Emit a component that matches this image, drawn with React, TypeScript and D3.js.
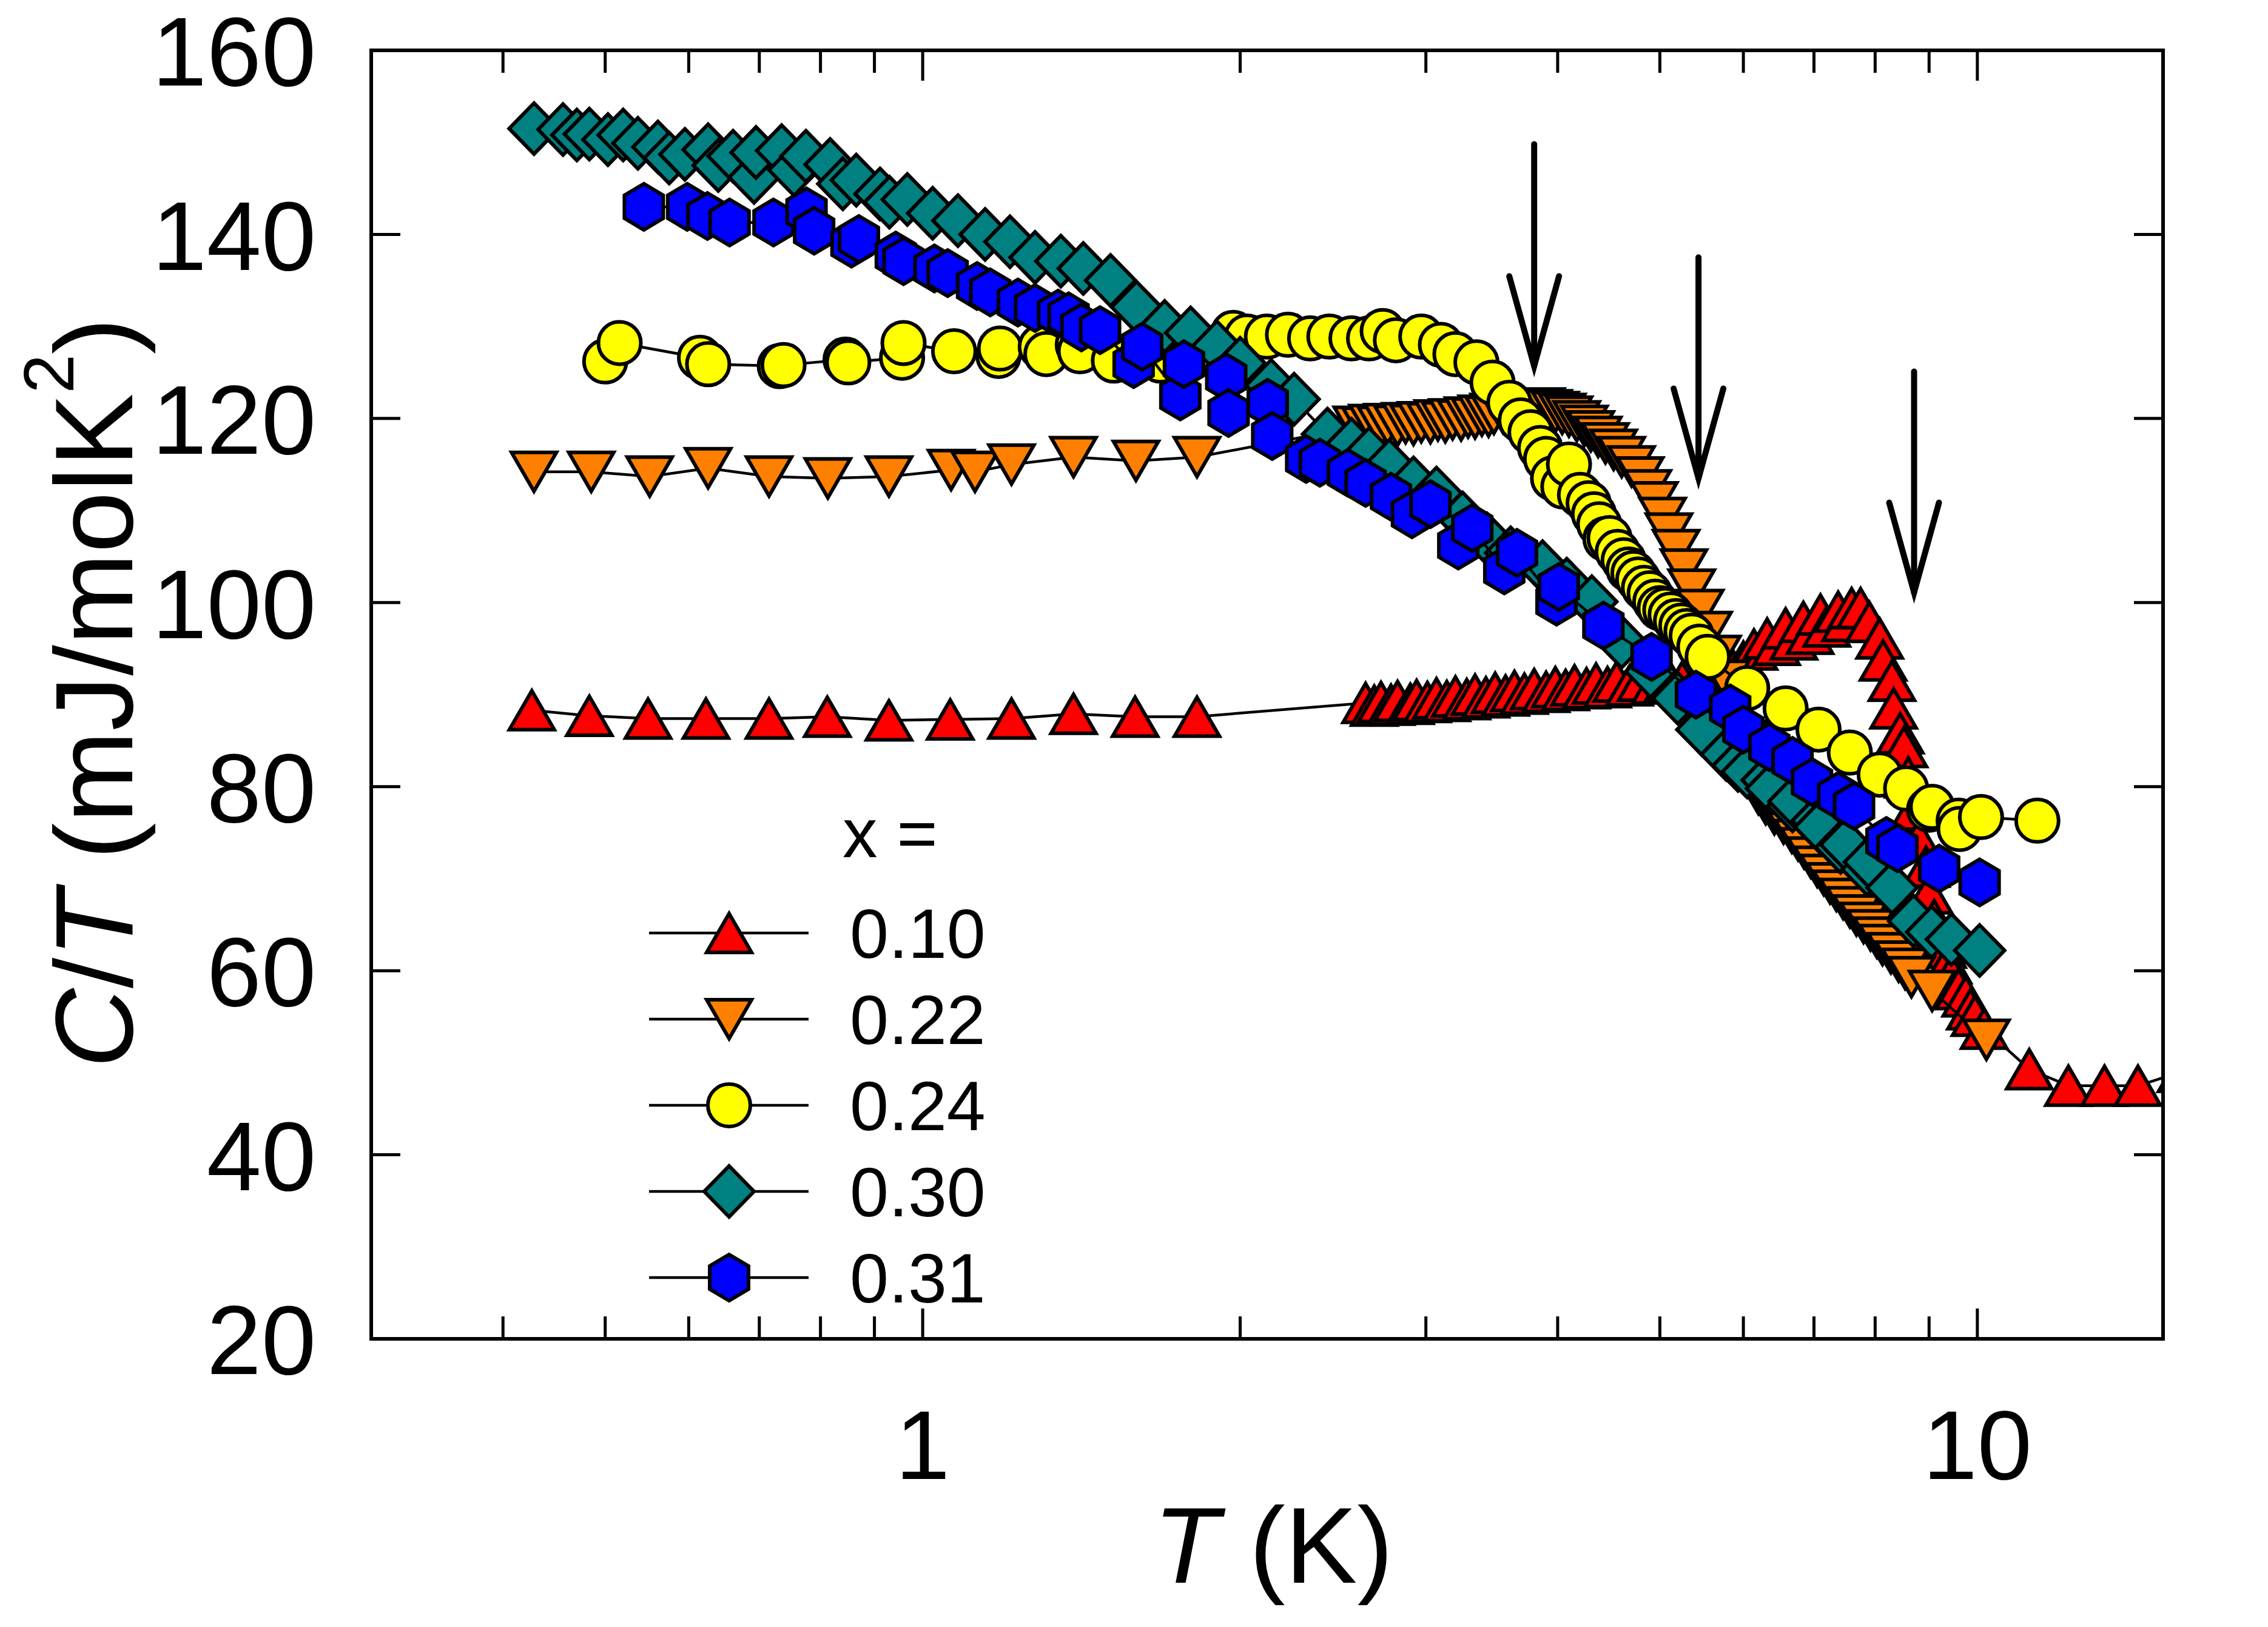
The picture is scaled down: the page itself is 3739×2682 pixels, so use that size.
import { useEffect, useRef } from "react";
import * as d3 from "d3";

type Pt = [number, number]; // [T in K, C/T in mJ/molK^2]

const WIDTH = 3739;
const HEIGHT = 2682;
const PLOT = { left: 612, right: 3566, top: 83, bottom: 2207 };
const FONT = "'Liberation Sans', Arial, Helvetica, sans-serif";

const X_DOMAIN: [number, number] = [0.3, 15];
const Y_DOMAIN: [number, number] = [20, 160];
const Y_TICKS = [20, 40, 60, 80, 100, 120, 140, 160];
const X_MAJOR = [1, 10];
const X_MINOR = [0.4, 0.5, 0.6, 0.7, 0.8, 0.9, 2, 3, 4, 5, 6, 7, 8, 9];

// vertical arrows marking the transitions: [T, top value, tip value]
const ARROWS: [number, number, number][] = [
  [3.8, 149.8, 125.7],
  [5.44, 137.5, 113.5],
  [8.71, 125.1, 101.1],
];

const X_010: Pt[] = [
  [0.426, 88.3], [0.483, 87.7], [0.549, 87.4], [0.623, 87.4], [0.715, 87.4], [0.812, 87.6],
  [0.929, 87.2], [1.062, 87.3], [1.214, 87.4], [1.39, 87.9], [1.59, 87.6], [1.82, 87.6],
  [2.63, 89.1], [2.68, 88.8], [2.72, 89.2], [2.78, 88.9], [2.82, 89.3], [2.9, 89.0], [2.94, 89.4],
  [3.01, 89.2], [3.07, 89.6], [3.14, 89.3], [3.2, 89.8], [3.28, 89.5], [3.34, 90.0], [3.42, 89.7],
  [3.49, 90.2], [3.57, 89.9], [3.64, 90.4], [3.72, 90.1], [3.8, 90.6], [3.9, 90.3], [3.98, 90.8],
  [4.07, 90.5], [4.15, 91.0], [4.26, 90.7], [4.35, 91.2], [4.46, 90.8], [4.55, 91.4], [4.68, 91.0],
  [4.8, 91.5], [4.95, 91.2], [5.1, 91.6], [5.25, 91.4], [5.45, 91.9], [5.65, 92.0], [5.87, 92.6],
  [6.0, 93.6], [6.14, 94.9], [6.32, 96.1], [6.45, 95.4], [6.58, 97.2], [6.7, 96.0], [6.84, 97.9],
  [6.94, 96.6], [7.1, 98.7], [7.2, 97.4], [7.38, 99.0], [7.5, 98.0], [7.6, 99.4], [7.75, 99.4],
  [7.9, 97.9], [8.08, 96.1], [8.14, 93.7], [8.3, 91.5], [8.33, 88.5], [8.45, 85.8], [8.52, 84.3],
  [8.6, 81.0], [8.7, 77.5], [8.8, 74.2], [8.94, 71.3], [9.0, 68.4], [9.1, 65.5], [9.2, 63.8],
  [9.27, 62.5], [9.38, 60.8], [9.45, 59.5], [9.6, 58.0], [9.75, 57.2], [9.85, 55.8], [9.95, 55.1],
  [10.15, 53.7], [11.2, 49.3], [12.2, 47.5], [13.2, 47.5], [14.2, 47.5], [15.6, 49.0],
];

const X_022: Pt[] = [
  [0.428, 114.2], [0.485, 114.2], [0.551, 113.7], [0.626, 114.6], [0.715, 113.7], [0.813, 113.5],
  [0.929, 113.7], [1.064, 114.4], [1.121, 114.2], [1.214, 115.0], [1.39, 115.8], [1.593, 115.4],
  [1.82, 115.8], [2.58, 119.1], [2.63, 119.0], [2.67, 119.3], [2.72, 119.1], [2.76, 119.4],
  [2.82, 119.2], [2.87, 119.5], [2.92, 119.3], [2.97, 119.6], [3.03, 119.5], [3.08, 119.8],
  [3.13, 119.6], [3.18, 119.9], [3.24, 119.8], [3.29, 120.1], [3.34, 120.0], [3.39, 120.3],
  [3.44, 120.2], [3.48, 120.5], [3.55, 120.6], [3.62, 120.8], [3.68, 120.9], [3.74, 121.0],
  [3.8, 120.8], [3.86, 121.1], [3.92, 120.9], [3.98, 120.7], [4.04, 120.5], [4.1, 120.2],
  [4.17, 119.7], [4.24, 119.2], [4.3, 118.6], [4.37, 118.0], [4.44, 117.3], [4.52, 116.6],
  [4.6, 115.8], [4.7, 114.8], [4.79, 113.6], [4.87, 112.2], [4.94, 110.9], [5.03, 109.2],
  [5.1, 107.5], [5.18, 105.7], [5.27, 103.6], [5.36, 101.4], [5.46, 99.2], [5.56, 96.8],
  [5.67, 94.2], [5.78, 91.5], [5.9, 88.4], [6.02, 85.0], [6.12, 81.8], [6.2, 79.2], [6.3, 78.1],
  [6.42, 77.0], [6.55, 76.0], [6.67, 75.0], [6.76, 74.2], [6.85, 73.3], [6.95, 72.3], [7.05, 71.3],
  [7.15, 70.4], [7.25, 69.5], [7.35, 68.7], [7.46, 67.8], [7.57, 66.9], [7.68, 66.0], [7.8, 65.2],
  [7.92, 64.4], [8.03, 63.6], [8.13, 62.8], [8.28, 61.9], [8.42, 61.0], [8.54, 60.2], [8.66, 59.3],
  [9.06, 57.8], [10.2, 52.5],
];

const X_024: Pt[] = [
  [0.5, 126.2], [0.516, 128.2], [0.615, 126.6], [0.626, 125.9], [0.732, 125.7], [0.738, 125.8],
  [0.845, 126.4], [0.85, 126.1], [0.956, 126.6], [0.959, 128.2], [1.071, 127.3], [1.18, 126.8],
  [1.184, 127.6], [1.294, 127.8], [1.31, 127.0], [1.403, 128.0], [1.41, 127.3], [1.518, 126.3],
  [1.68, 126.3], [1.97, 129.3], [2.03, 128.9], [2.12, 128.9], [2.22, 129.1], [2.33, 128.7],
  [2.43, 128.9], [2.55, 128.7], [2.65, 128.7], [2.73, 129.5], [2.81, 128.5], [2.97, 128.9],
  [3.1, 128.0], [3.2, 127.0], [3.35, 126.1], [3.47, 123.9], [3.6, 121.7], [3.69, 119.8],
  [3.77, 118.5], [3.85, 116.8], [3.9, 115.6], [3.96, 113.5], [4.05, 112.6], [4.1, 115.0],
  [4.2, 111.7], [4.28, 110.8], [4.33, 109.6], [4.38, 108.5], [4.44, 106.9], [4.48, 107.0],
  [4.56, 105.5], [4.62, 104.6], [4.67, 103.6], [4.72, 103.2], [4.77, 102.5], [4.83, 101.6],
  [4.89, 101.0], [4.95, 100.1], [5.0, 99.4], [5.06, 99.2], [5.12, 98.7], [5.18, 98.0],
  [5.24, 97.5], [5.3, 96.9], [5.36, 96.4], [5.45, 95.2], [5.55, 94.1], [6.05, 90.7], [6.58, 88.5],
  [7.07, 86.2], [7.57, 83.7], [8.08, 81.3], [8.56, 79.8], [9.0, 77.5], [9.06, 77.8], [9.6, 76.3],
  [9.62, 75.4], [10.08, 76.7], [11.4, 76.3],
];

const X_030: Pt[] = [
  [0.428, 151.5], [0.456, 151.4], [0.47, 150.8], [0.483, 150.9], [0.503, 150.3], [0.52, 150.8],
  [0.537, 149.9], [0.561, 149.5], [0.575, 148.3], [0.595, 148.7], [0.626, 149.2], [0.64, 147.5],
  [0.661, 148.5], [0.692, 146.2], [0.695, 148.9], [0.735, 149.1], [0.755, 147.0], [0.775, 148.5],
  [0.817, 147.6], [0.84, 145.5], [0.865, 145.9], [0.911, 144.4], [0.93, 143.5], [0.967, 143.8],
  [1.022, 142.3], [1.08, 141.5], [1.146, 140.0], [1.21, 139.2], [1.278, 137.5], [1.352, 137.1],
  [1.42, 136.3], [1.507, 135.0], [1.595, 132.1], [1.696, 130.0], [1.795, 129.3], [1.901, 127.8],
  [2.0, 126.0], [2.14, 123.6], [2.25, 122.1], [2.42, 118.3], [2.55, 117.2], [2.65, 116.2],
  [2.77, 114.9], [2.92, 113.0], [3.07, 111.9], [3.25, 109.2], [3.43, 106.9], [3.61, 105.4],
  [3.87, 103.9], [4.08, 102.0], [4.31, 100.1], [4.6, 95.7], [4.9, 92.5], [5.2, 89.6], [5.48, 86.2],
  [5.78, 83.5], [5.93, 82.3], [6.05, 81.6], [6.32, 80.7], [6.38, 79.8], [6.68, 77.9], [6.7, 78.4],
  [7.05, 76.3], [7.09, 75.6], [7.42, 73.4], [7.5, 73.7], [7.86, 71.0], [7.9, 71.8], [8.3, 69.0],
  [8.7, 65.4], [9.05, 64.2], [9.45, 63.4], [10.05, 62.2],
];

const X_031: Pt[] = [
  [0.544, 143.0], [0.598, 143.0], [0.625, 142.0], [0.656, 141.3], [0.722, 141.3], [0.776, 142.5],
  [0.789, 140.4], [0.856, 139.0], [0.87, 139.5], [0.943, 137.7], [0.959, 137.1], [1.026, 136.3],
  [1.056, 135.8], [1.126, 134.4], [1.159, 133.7], [1.231, 132.6], [1.278, 132.0], [1.344, 131.4],
  [1.375, 131.1], [1.414, 129.9], [1.473, 129.6], [1.585, 125.9], [1.615, 127.8], [1.755, 122.4],
  [1.769, 125.9], [1.94, 124.5], [1.95, 120.6], [2.124, 121.7], [2.145, 118.1], [2.31, 115.6],
  [2.38, 115.2], [2.53, 114.1], [2.63, 113.0], [2.78, 111.5], [2.91, 109.6], [3.03, 110.7],
  [3.22, 106.2], [3.32, 108.1], [3.56, 103.5], [3.66, 105.4], [3.99, 100.1], [4.01, 101.7],
  [4.42, 97.5], [4.91, 94.1], [5.41, 90.0], [5.83, 88.5], [6.0, 86.2], [6.35, 84.3], [6.68, 82.8],
  [6.97, 80.5], [7.38, 79.0], [7.64, 77.9], [8.2, 74.1], [8.4, 73.3], [9.2, 71.1], [10.05, 69.6],
];

const SERIES_META = [
  { label: "0.10", data: X_010, shape: "up", color: "#ff0000" },
  { label: "0.22", data: X_022, shape: "down", color: "#ff8000" },
  { label: "0.24", data: X_024, shape: "circle", color: "#ffff00" },
  { label: "0.30", data: X_030, shape: "diamond", color: "#008080" },
  { label: "0.31", data: X_031, shape: "hexagon", color: "#0000ff" },
] as const;

// marker geometry, px
const TRI_W = 74, TRI_H = 64;
const DIA_W = 82, DIA_H = 84;
const HEX_W = 64, HEX_H = 76;
const CIRC_R = 35;
const OUTLINE = 6;

function markerPath(shape: string): string {
  if (shape === "up")
    return `M0,${-TRI_H / 2}L${TRI_W / 2},${TRI_H / 2}L${-TRI_W / 2},${TRI_H / 2}Z`;
  if (shape === "down")
    return `M0,${TRI_H / 2}L${TRI_W / 2},${-TRI_H / 2}L${-TRI_W / 2},${-TRI_H / 2}Z`;
  if (shape === "diamond")
    return `M0,${-DIA_H / 2}L${DIA_W / 2},0L0,${DIA_H / 2}L${-DIA_W / 2},0Z`;
  if (shape === "hexagon")
    return `M0,${-HEX_H / 2}L${HEX_W / 2},${-HEX_H / 4}L${HEX_W / 2},${HEX_H / 4}L0,${HEX_H / 2}L${-HEX_W / 2},${HEX_H / 4}L${-HEX_W / 2},${-HEX_H / 4}Z`;
  const p = d3.path();
  p.arc(0, 0, CIRC_R, 0, Math.PI * 2);
  p.closePath();
  return p.toString();
}

export default function App() {
  const svgRef = useRef<SVGSVGElement>(null);

  useEffect(() => {
    const svgEl = svgRef.current;
    if (!svgEl) return;
    const svg = d3.select(svgEl);
    svg.selectAll("*").remove();

    const x = d3.scaleLog().domain(X_DOMAIN).range([PLOT.left, PLOT.right]);
    const y = d3.scaleLinear().domain(Y_DOMAIN).range([PLOT.bottom, PLOT.top]);

    svg
      .append("defs")
      .append("clipPath")
      .attr("id", "plot-clip")
      .append("rect")
      .attr("x", PLOT.left)
      .attr("y", PLOT.top)
      .attr("width", PLOT.right - PLOT.left)
      .attr("height", PLOT.bottom - PLOT.top);

    // Data: per series a thin black connecting line, then the symbols
    const plot = svg.append("g").attr("clip-path", "url(#plot-clip)");
    const line = d3
      .line<Pt>()
      .x((d) => x(d[0]))
      .y((d) => y(d[1]));

    SERIES_META.forEach((s) => {
      const data = [...s.data].sort((a, b) => a[0] - b[0]);
      plot
        .append("path")
        .datum(data)
        .attr("fill", "none")
        .attr("stroke", "#000")
        .attr("stroke-width", 4.5)
        .attr("d", line);
      const d = markerPath(s.shape);
      plot
        .append("g")
        .selectAll("path")
        .data(data)
        .enter()
        .append("path")
        .attr("d", d)
        .attr("transform", (p) => `translate(${x(p[0])},${y(p[1])})`)
        .attr("fill", s.color)
        .attr("stroke", "#000")
        .attr("stroke-width", OUTLINE)
        .attr("stroke-linejoin", "miter");
    });

    // Frame
    svg
      .append("rect")
      .attr("x", PLOT.left)
      .attr("y", PLOT.top)
      .attr("width", PLOT.right - PLOT.left)
      .attr("height", PLOT.bottom - PLOT.top)
      .attr("fill", "none")
      .attr("stroke", "#000")
      .attr("stroke-width", 6);

    // Ticks (inward, mirrored on all four sides)
    const ticks = svg.append("g").attr("stroke", "#000").attr("stroke-width", 5);
    const xTicks = [
      ...X_MAJOR.map((v) => ({ v, len: 50 })),
      ...X_MINOR.map((v) => ({ v, len: 37 })),
    ];
    xTicks.forEach(({ v, len }) => {
      ticks.append("line")
        .attr("x1", x(v)).attr("x2", x(v))
        .attr("y1", PLOT.bottom).attr("y2", PLOT.bottom - len);
      ticks.append("line")
        .attr("x1", x(v)).attr("x2", x(v))
        .attr("y1", PLOT.top).attr("y2", PLOT.top + len);
    });
    Y_TICKS.forEach((v) => {
      ticks.append("line")
        .attr("x1", PLOT.left).attr("x2", PLOT.left + 48)
        .attr("y1", y(v)).attr("y2", y(v));
      ticks.append("line")
        .attr("x1", PLOT.right).attr("x2", PLOT.right - 48)
        .attr("y1", y(v)).attr("y2", y(v));
    });

    // Tick labels
    svg
      .append("g")
      .selectAll("text")
      .data(Y_TICKS)
      .enter()
      .append("text")
      .attr("x", PLOT.left - 91)
      .attr("y", (d) => y(d))
      .attr("dy", "0.36em")
      .attr("text-anchor", "end")
      .attr("font-family", FONT)
      .attr("font-size", 162)
      .text((d) => d);

    svg
      .append("g")
      .selectAll("text")
      .data(X_MAJOR)
      .enter()
      .append("text")
      .attr("x", (d) => x(d))
      .attr("y", 2438)
      .attr("text-anchor", "middle")
      .attr("font-family", FONT)
      .attr("font-size", 162)
      .text((d) => d);

    // Axis titles
    const xt = svg
      .append("text")
      .attr("x", (PLOT.left + PLOT.right) / 2 + 10)
      .attr("y", 2609)
      .attr("text-anchor", "middle")
      .attr("font-family", FONT)
      .attr("font-size", 178);
    xt.append("tspan").attr("font-style", "italic").text("T");
    xt.append("tspan").text(" (K)");

    const yt = svg
      .append("text")
      .attr("transform", "translate(218,1142) rotate(-90)")
      .attr("text-anchor", "middle")
      .attr("font-family", FONT)
      .attr("font-size", 182);
    yt.append("tspan").attr("font-style", "italic").text("C");
    yt.append("tspan").text("/");
    yt.append("tspan").attr("font-style", "italic").text("T");
    yt.append("tspan").text(" (mJ/molK");
    yt.append("tspan").attr("font-size", 116).attr("dy", -97).text("2");
    yt.append("tspan").attr("dy", 97).text(")");

    // Arrows
    const arrows = svg
      .append("g")
      .attr("stroke", "#000")
      .attr("stroke-width", 10)
      .attr("stroke-linecap", "round")
      .attr("fill", "none");
    ARROWS.forEach(([t, top, tip]) => {
      const ax = x(t);
      const y0 = y(top);
      const y1 = y(tip);
      arrows.append("line").attr("x1", ax).attr("x2", ax).attr("y1", y0).attr("y2", y1);
      arrows
        .append("path")
        .attr("d", `M${ax - 41},${y1 - 148}L${ax},${y1}L${ax + 41},${y1 - 148}`)
        .attr("stroke-linejoin", "miter");
    });

    // Legend
    const legend = svg.append("g").attr("font-family", FONT).attr("font-size", 115);
    legend.append("text").attr("x", 1389).attr("y", 1413).text("x =");
    SERIES_META.forEach((s, i) => {
      const ry = 1538 + i * 142;
      legend
        .append("line")
        .attr("x1", 1070)
        .attr("x2", 1333)
        .attr("y1", ry)
        .attr("y2", ry)
        .attr("stroke", "#000")
        .attr("stroke-width", 4.5);
      legend
        .append("path")
        .attr("d", markerPath(s.shape))
        .attr("transform", `translate(1202,${ry})`)
        .attr("fill", s.color)
        .attr("stroke", "#000")
        .attr("stroke-width", OUTLINE);
      legend
        .append("text")
        .attr("x", 1401)
        .attr("y", ry + 41)
        .text(s.label);
    });
  }, []);

  return (
    <svg
      ref={svgRef}
      width={WIDTH}
      height={HEIGHT}
      style={{ position: "absolute", left: 0, top: 0, display: "block", background: "#fff" }}
    />
  );
}
